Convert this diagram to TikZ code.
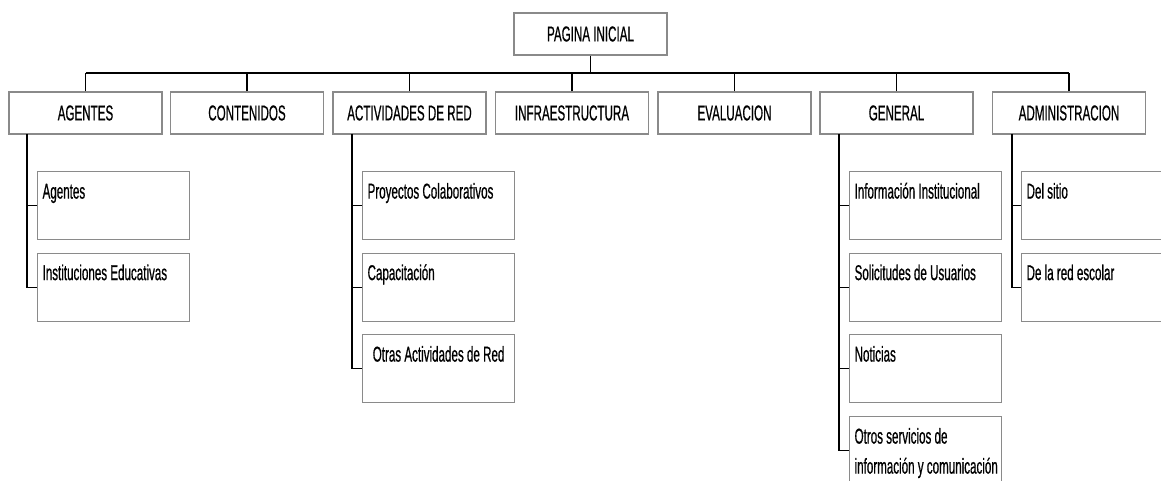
\documentclass[tikz,border=0pt]{standalone}
\usepackage{fontspec}
\setmainfont[FakeStretch=0.54, FakeBold=0.6]{Liberation Sans}
\definecolor{boxgray}{HTML}{8A8A8A}
\begin{document}
\begin{tikzpicture}[x=1pt,y=-1pt,
  every node/.style={font=\fontsize{21.5}{30}\selectfont},
  topbox/.style={draw=boxgray, line width=1.2pt, minimum width=153pt,
    minimum height=42pt, inner sep=0pt},
  subbox/.style={draw=boxgray, line width=1.2pt, anchor=north west,
    text width=142pt, inner xsep=5pt, inner ysep=0pt,
    text height=27pt, text depth=41pt, align=flush left},
  link/.style={draw=black, line width=1.1pt}]
\useasboundingbox (0,0) rectangle (1161,481);
\clip (0,0) rectangle (1161,481);

% root and first level
\node[topbox] (home) at (590.5,34) {PAGINA INICIAL};
\node[topbox] (agentes) at (85.5,113) {AGENTES};
\node[topbox] (contenidos) at (247,113) {CONTENIDOS};
\node[topbox] (actividades) at (409.5,113) {ACTIVIDADES DE RED};
\node[topbox] (infra) at (572,113) {INFRAESTRUCTURA};
\node[topbox] (evaluacion) at (734.5,113) {EVALUACION};
\node[topbox] (general) at (896.5,113) {GENERAL};
\node[topbox] (admin) at (1069,113) {ADMINISTRACION};

% bus joining the first level to the root
\coordinate (bus) at (0,73);
\draw[link] (home.south) -- (home.south |- bus);
\draw[link] (agentes.north |- bus) -- (admin.north |- bus);
\foreach \n in {agentes,contenidos,actividades,infra,evaluacion,general,admin}
  \draw[link] (\n.north) -- (\n.north |- bus);

% second level: AGENTES
\node[subbox] (ag1) at (37,171) {Agentes};
\node[subbox] (ag2) at (37,252.5) {Instituciones Educativas};
\coordinate (agt) at (27,134);
\draw[link] (agt) |- (ag2.west);
\draw[link] (ag1.west) -- (ag1.west -| agt);

% second level: ACTIVIDADES DE RED
\node[subbox] (ac1) at (362,171) {Proyectos Colaborativos};
\node[subbox] (ac2) at (362,252.5) {Capacitación};
\node[subbox, align=flush center] (ac3) at (362,334) {\mbox{Otras Actividades de Red}};
\coordinate (act) at (352,134);
\draw[link] (act) |- (ac3.west);
\foreach \n in {ac1,ac2}
  \draw[link] (\n.west) -- (\n.west -| act);

% second level: GENERAL
\node[subbox] (ge1) at (849,171) {Información Institucional};
\node[subbox] (ge2) at (849,252.5) {Solicitudes de Usuarios};
\node[subbox] (ge3) at (849,334) {Noticias};
\node[subbox] (ge4) at (849,416) {Otros servicios de\\\mbox{información y comunicación}};
\coordinate (get) at (839,134);
\draw[link] (get) |- (ge4.west);
\foreach \n in {ge1,ge2,ge3}
  \draw[link] (\n.west) -- (\n.west -| get);

% second level: ADMINISTRACION
\node[subbox] (ad1) at (1021,171) {Del sitio};
\node[subbox] (ad2) at (1021,252.5) {De la red escolar};
\coordinate (adt) at (1012,134);
\draw[link] (adt) |- (ad2.west);
\draw[link] (ad1.west) -- (ad1.west -| adt);
\end{tikzpicture}
\end{document}
